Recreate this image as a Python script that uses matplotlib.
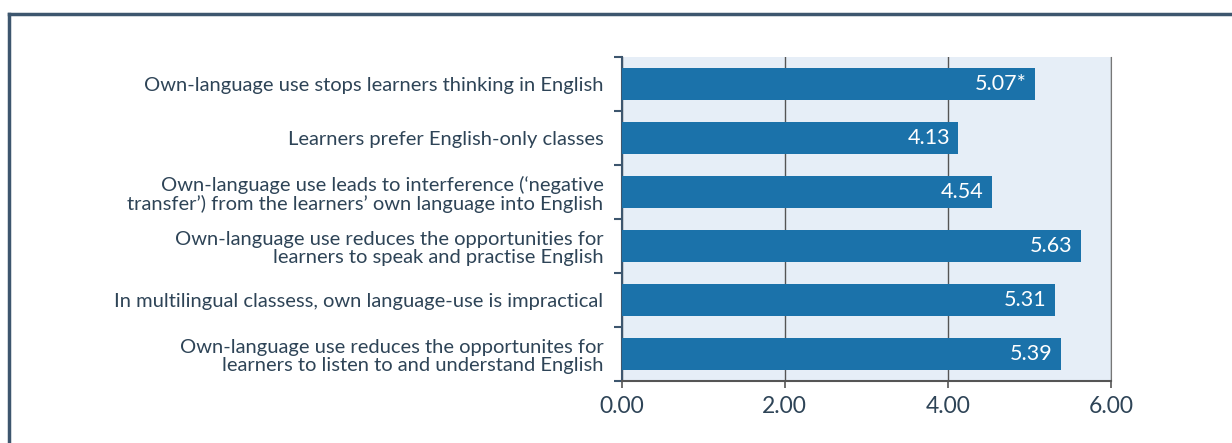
import matplotlib
matplotlib.use("Agg")
import matplotlib.pyplot as plt
from matplotlib.lines import Line2D
import numpy as np

statements = [
    "Own-language use stops learners thinking in English",
    "Learners prefer English-only classes",
    "Own-language use leads to interference (\u2018negative\ntransfer\u2019) from the learners\u2019 own language into English",
    "Own-language use reduces the opportunities for\nlearners to speak and practise English",
    "In multilingual classess, own language-use is impractical",
    "Own-language use reduces the opportunites for\nlearners to listen to and understand English",
]
means = [5.07, 4.13, 4.54, 5.63, 5.31, 5.39]
value_labels = ["5.07*", "4.13", "4.54", "5.63", "5.31", "5.39"]
x_ticks = [0, 2, 4, 6]
x_tick_labels = ["0.00", "2.00", "4.00", "6.00"]

plt.rcParams["font.family"] = ["Lato", "DejaVu Sans"]

TEXT = "#2e4457"
BAR = "#1b72aa"
FRAME = "#3d566e"

fig = plt.figure(figsize=(12.32, 4.43), dpi=100)
fig.patch.set_facecolor("white")

# outer frame (left and top edges)
fig.add_artist(Line2D([9 / 1232, 9 / 1232], [0, 1 - 14 / 443],
                      transform=fig.transFigure, color=FRAME, lw=2.5))
fig.add_artist(Line2D([9 / 1232, 1], [1 - 14 / 443, 1 - 14 / 443],
                      transform=fig.transFigure, color=FRAME, lw=2.5))

ax = fig.add_axes([621.5 / 1232, 1 - 381 / 443, (1111 - 621.5) / 1232, (381 - 57) / 443])
ax.set_facecolor("#e6eef7")

y = np.arange(len(statements))
ax.barh(y, means, height=0.58, color=BAR, zorder=3)

for yi, v, lab in zip(y, means, value_labels):
    ax.annotate(lab, (v, yi), xytext=(-6, 0), textcoords="offset points",
                ha="right", va="center", color="white", fontsize=15.5, zorder=4)

ax.set_xlim(0, 6)
ax.set_ylim(len(statements) - 0.5, -0.5)

ax.set_xticks(x_ticks)
ax.set_xticklabels(x_tick_labels, fontsize=16.5, color=TEXT)
ax.tick_params(axis="x", length=5, width=1.2, color="#555555", pad=6)

# category boundaries carry the tick marks, centres carry the labels
ax.set_yticks(np.arange(-0.5, len(statements), 1.0))
ax.set_yticklabels([])
ax.set_yticks(y, minor=True)
ax.set_yticklabels(statements, minor=True, fontsize=14.5, color=TEXT, linespacing=1.1)
ax.tick_params(axis="y", which="major", length=6, width=1.5, color=FRAME)
ax.tick_params(axis="y", which="minor", length=0, pad=13)

ax.grid(axis="x", color="#555555", lw=1.0, zorder=1)
ax.spines["top"].set_visible(False)
ax.spines["right"].set_color("#777777")
ax.spines["left"].set_color(FRAME)
ax.spines["left"].set_linewidth(1.5)
ax.spines["bottom"].set_color("#555555")
ax.spines["bottom"].set_linewidth(1.5)

fig.savefig("out.png", dpi=100)
